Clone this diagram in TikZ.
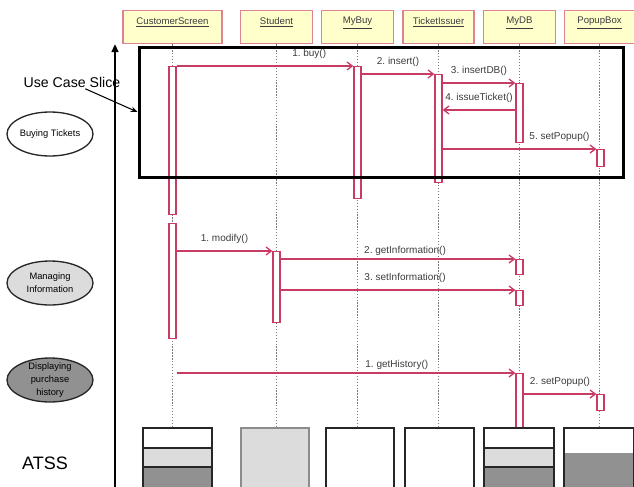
\documentclass[tikz,border=0pt]{standalone}
\usepackage{fontspec}
\setmainfont{Liberation Sans}
\frenchspacing
\usetikzlibrary{arrows.meta,positioning,calc,shapes.geometric}
\definecolor{MsgRose}{RGB}{200,60,100}
\definecolor{HeadRose}{RGB}{222,130,150}
\definecolor{HeadCream}{RGB}{255,255,204}
\definecolor{LifeGray}{RGB}{120,120,120}
\definecolor{TextGray}{RGB}{60,60,60}
\definecolor{PaleGray}{RGB}{220,220,220}
\definecolor{DeepGray}{RGB}{145,145,145}
\tikzset{
  objbox/.style   ={rectangle, draw=HeadRose, line width=1pt, fill=HeadCream,
                    minimum height=24.75pt, inner sep=0pt, anchor=north},
  objname/.style  ={font=\fontsize{7.2}{8}\selectfont, text=TextGray, inner sep=1pt},
  life/.style     ={draw=LifeGray, line width=.7pt, dash pattern=on 1pt off 1.2pt},
  actbar/.style   ={rectangle, draw=MsgRose, line width=.9pt, fill=white,
                    minimum width=5.25pt, inner sep=0pt, anchor=north},
  msg/.style      ={draw=MsgRose, line width=1pt, -{Straight Barb[length=4pt,width=6pt]}},
  msglab/.style   ={font=\fontsize{7.5}{9}\selectfont, text=TextGray, inner sep=1pt},
  slicebox/.style ={rectangle, draw=black, line width=2.25pt, minimum width=363pt,
                    minimum height=97.5pt, inner sep=0pt},
  usecase/.style  ={ellipse, draw=black!85, line width=1pt, minimum width=64.5pt,
                    minimum height=33pt, inner sep=0pt},
  uctext/.style   ={font=\fontsize{7}{9.75}\selectfont, align=center, inner sep=0pt},
  tier/.style     ={draw=black!85, line width=1.1pt},
}
\newcommand{\objhead}[4]{\node[objbox,minimum width=#4,
  label={[objname,anchor=north,yshift=-4.3pt]north:\underline{#3}}] (#1) at (#2,10) {};}
\newcommand{\actbox}[4]{\node[actbar,minimum height={0.75pt*(#4-#3)}] (#1) at (#2,#3) {};}

\begin{document}
\begin{tikzpicture}[x=0.75pt,y=-0.75pt]
  \useasboundingbox (0,0) rectangle (634,486);

  \objhead{cs}{172.5}{CustomerScreen}{74.25pt}
  \objhead{st}{276.5}{Student}{54pt}
  \objhead{buy}{357.5}{MyBuy}{54pt}
  \objhead{ti}{438.5}{TicketIssuer}{53.25pt}
  \objhead{db}{519.5}{MyDB}{54pt}
  \objhead{pop}{599.5}{PopupBox}{52.5pt}

  \coordinate (lifeEnd) at (0,428);
  \foreach \o in {cs,st,buy,ti,db,pop}
    \draw[life] (\o.south) -- (\o.south |- lifeEnd);

  \actbox{csA1}{172.5}{66}{214}
  \actbox{csA2}{172.5}{223}{338}
  \actbox{buyA}{357.5}{66}{198}
  \actbox{tiA}{438.5}{74}{182}
  \actbox{dbA1}{519.5}{83}{142}
  \actbox{popA1}{600.5}{149}{166}
  \actbox{stA}{276.5}{251}{322}
  \actbox{dbA2}{519.5}{259}{274}
  \actbox{dbA3}{519.5}{290}{305}
  \actbox{dbA4}{519.5}{373}{427}
  \actbox{popA2}{600.5}{394}{410}

  \coordinate (ticketY) at (0,110);
  \draw[msg] (csA1.north east) -- node[msglab,above=3.75pt,pos=.75] {1. buy()} (buyA.north west);
  \draw[msg] (buyA.east |- tiA.north) -- node[msglab,above=3.75pt] {2. insert()} (tiA.north west);
  \draw[msg] (tiA.east |- dbA1.north) -- node[msglab,above=3.75pt] {3. insertDB()} (dbA1.north west);
  \draw[msg] (dbA1.west |- ticketY) -- node[msglab,above=3.75pt] {4. issueTicket()} (tiA.east |- ticketY);
  \draw[msg] (tiA.east |- popA1.north) -- node[msglab,above=3.75pt,pos=.76] {5. setPopup()} (popA1.north west);
  \draw[msg] (csA2.east |- stA.north) -- node[msglab,above=3.75pt] {1. modify()} (stA.north west);
  \draw[msg] (stA.east |- dbA2.north) -- node[msglab,above=.75pt,pos=.53] {2. getInformation()} (dbA2.north west);
  \draw[msg] (stA.east |- dbA3.north) -- node[msglab,above=3.75pt,pos=.53] {3. setInformation()} (dbA3.north west);
  \draw[msg] (csA2.east |- dbA4.north) -- node[msglab,above=.75pt,pos=.65] {1. getHistory()} (dbA4.north west);
  \draw[msg] (dbA4.east |- popA2.north) -- node[msglab,above=3.75pt] {2. setPopup()} (popA2.north west);

  \coordinate (axisFoot) at (115,490);
  \coordinate (axisHead) at (115,44);
  \draw[line width=1.5pt,-{Triangle[length=6pt,width=5pt]}] (axisFoot) -- (axisHead);

  \node[usecase,fill=white,label={[uctext]center:Buying Tickets}] (ucBuy) at (50,134) {};
  \node[usecase,fill=PaleGray,label={[uctext]center:{Managing\\Information}}] (ucManage) at (50,283) {};
  \node[usecase,fill=DeepGray,label={[uctext]center:{Displaying\\purchase\\history}}] (ucHistory) at (50,380) {};
  \node[font=\fontsize{13.5}{15}\selectfont] (atss) at (45,463) {ATSS};

  \foreach \xa/\xb in {143/212,484/554} {
    \filldraw[tier,fill=white] (\xa,428) rectangle (\xb,448);
    \filldraw[tier,fill=PaleGray] (\xa,448) rectangle (\xb,467);
    \filldraw[tier,fill=DeepGray] (\xa,467) rectangle (\xb,495);
  }
  \filldraw[tier,draw=black!45,fill=PaleGray] (241,428) rectangle (309,495);
  \filldraw[tier,fill=white] (326,428) rectangle (394,495);
  \filldraw[tier,fill=white] (405,428) rectangle (474,495);
  \fill[DeepGray] (564,453) rectangle (634,495);
  \draw[tier] (564,428) rectangle (634,495);

  \node[slicebox] (slice) at (381,112) {};
  \node[font=\fontsize{10.6}{12}\selectfont,inner sep=1pt] (sliceTag) at (72,82) {Use Case Slice};
  \draw[line width=.8pt,-{Stealth[length=5pt,width=4pt]}] ([xshift=10pt]sliceTag.south) -- (slice.west);
\end{tikzpicture}
\end{document}
